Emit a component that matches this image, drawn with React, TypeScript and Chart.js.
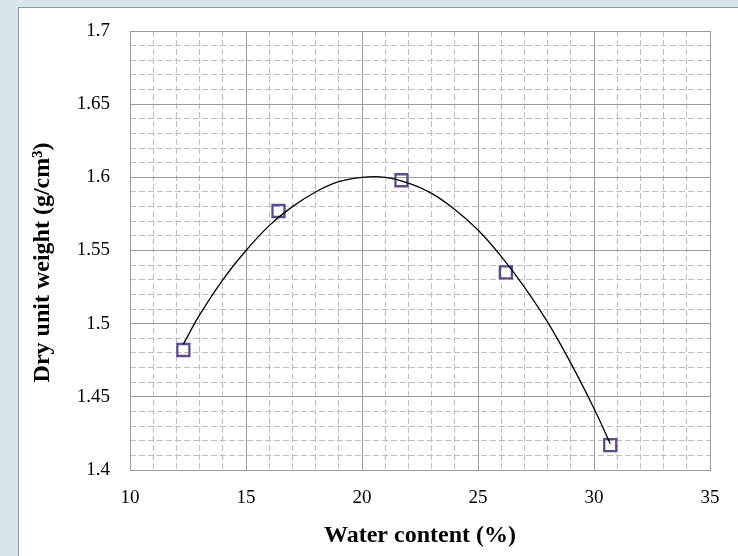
import React, { useEffect, useRef } from "react";
import { Chart, registerables } from "chart.js";

Chart.register(...registerables);

// Measured points
const waterContent = [12.3, 16.4, 21.7, 26.2, 30.7];
const dryUnitWeight = [1.482, 1.577, 1.598, 1.535, 1.417];

// Trendline
const trendX = [12.3, 13, 14, 15, 16, 17, 18, 19, 20, 21, 22, 23, 24, 25, 26, 27, 28, 29, 30, 30.7];
const trendY = [1.486, 1.506, 1.53, 1.55, 1.567, 1.58, 1.59, 1.597, 1.6, 1.6, 1.596, 1.589, 1.578, 1.564, 1.546, 1.525, 1.501, 1.473, 1.442, 1.418];

const xTitle = "Water content (%)";
const yTitle = "Dry unit weight (g/cm³)    ";

const FONT = "'Liberation Serif', 'Times New Roman', serif";

export default function App() {
  const ref = useRef<HTMLCanvasElement | null>(null);

  useEffect(() => {
    if (!ref.current) return;
    const chart = new Chart(ref.current, {
      type: "scatter",
      data: {
        datasets: [
          {
            label: "trend",
            data: trendX.map((x, i) => ({ x, y: trendY[i] })),
            showLine: true,
            borderColor: "#000000",
            borderWidth: 1.3,
            pointRadius: 0,
            tension: 0.4,
            fill: false,
          },
          {
            label: "data",
            data: waterContent.map((x, i) => ({ x, y: dryUnitWeight[i] })),
            showLine: false,
            pointStyle: "rect",
            pointRadius: 8.5,
            borderWidth: 2.3,
            borderColor: "#5f4b8b",
            backgroundColor: "rgba(0,0,0,0)",
          },
        ],
      },
      options: {
        responsive: false,
        animation: false,
        events: [],
        layout: { padding: { left: 0, top: 23, right: 28, bottom: 0 } },
        plugins: { legend: { display: false }, tooltip: { enabled: false } },
        scales: {
          xMinor: {
            type: "linear",
            position: "bottom",
            min: 10,
            max: 35,
            ticks: { stepSize: 1, display: false },
            grid: {
              drawTicks: false,
              color: (ctx: any) => (ctx.tick && ctx.tick.value % 5 === 0 ? "rgba(0,0,0,0)" : "#bdbdbd"),
              lineWidth: 1,
            },
            border: { display: false, dash: [6, 3] },
            afterFit: (s: any) => { s.height = 0; s.paddingLeft = 0; s.paddingRight = 0; },
          },
          yMinor: {
            type: "linear",
            position: "left",
            min: 1.4,
            max: 1.7,
            ticks: { stepSize: 0.01, display: false },
            grid: {
              drawTicks: false,
              color: (ctx: any) => {
                const v = ctx.tick ? Math.round(ctx.tick.value * 100) : 0;
                return v % 5 === 0 ? "rgba(0,0,0,0)" : "#bdbdbd";
              },
              lineWidth: 1,
            },
            border: { display: false, dash: [6, 3] },
            afterFit: (s: any) => { s.width = 0; s.paddingTop = 0; s.paddingBottom = 0; },
          },
          x: {
            type: "linear",
            position: "bottom",
            min: 10,
            max: 35,
            ticks: {
              stepSize: 5,
              padding: 17,
              color: "#000000",
              font: { family: FONT, size: 19 },
            },
            grid: { drawTicks: false, color: "#9c9c9c", lineWidth: 1 },
            border: { color: "#9c9c9c", width: 1 },
            title: {
              display: true,
              text: xTitle,
              color: "#000000",
              font: { family: FONT, size: 24, weight: "bold" },
              padding: { top: 0, bottom: 6 },
            },
            afterFit: (s: any) => { s.height = 86; s.paddingLeft = 0; s.paddingRight = 0; },
          },
          y: {
            type: "linear",
            position: "left",
            min: 1.4,
            max: 1.7,
            ticks: {
              stepSize: 0.05,
              padding: 20,
              color: "#000000",
              font: { family: FONT, size: 19 },
              callback: (v: any) => String(Math.round(Number(v) * 100) / 100),
            },
            grid: { drawTicks: false, color: "#9c9c9c", lineWidth: 1 },
            border: { color: "#9c9c9c", width: 1 },
            title: {
              display: true,
              text: yTitle,
              color: "#000000",
              font: { family: FONT, size: 24, weight: "bold" },
              padding: { top: 9, bottom: 0 },
            },
            afterFit: (s: any) => { s.width = 111; s.paddingTop = 0; s.paddingBottom = 0; },
          },
        },
      },
    } as any);
    return () => chart.destroy();
  }, []);

  return (
    <div style={{ position: "fixed", left: 0, top: 0, width: 738, height: 556, background: "#d6e6ea", overflow: "hidden" }}>
      <div
        style={{
          position: "absolute",
          left: 18,
          top: 7,
          width: 719,
          height: 548,
          background: "#ffffff",
          borderLeft: "1px solid #999999",
          borderTop: "1px solid #999999",
        }}
      >
        <canvas ref={ref} width={719} height={548} style={{ display: "block", width: 719, height: 548 }} />
      </div>
    </div>
  );
}
